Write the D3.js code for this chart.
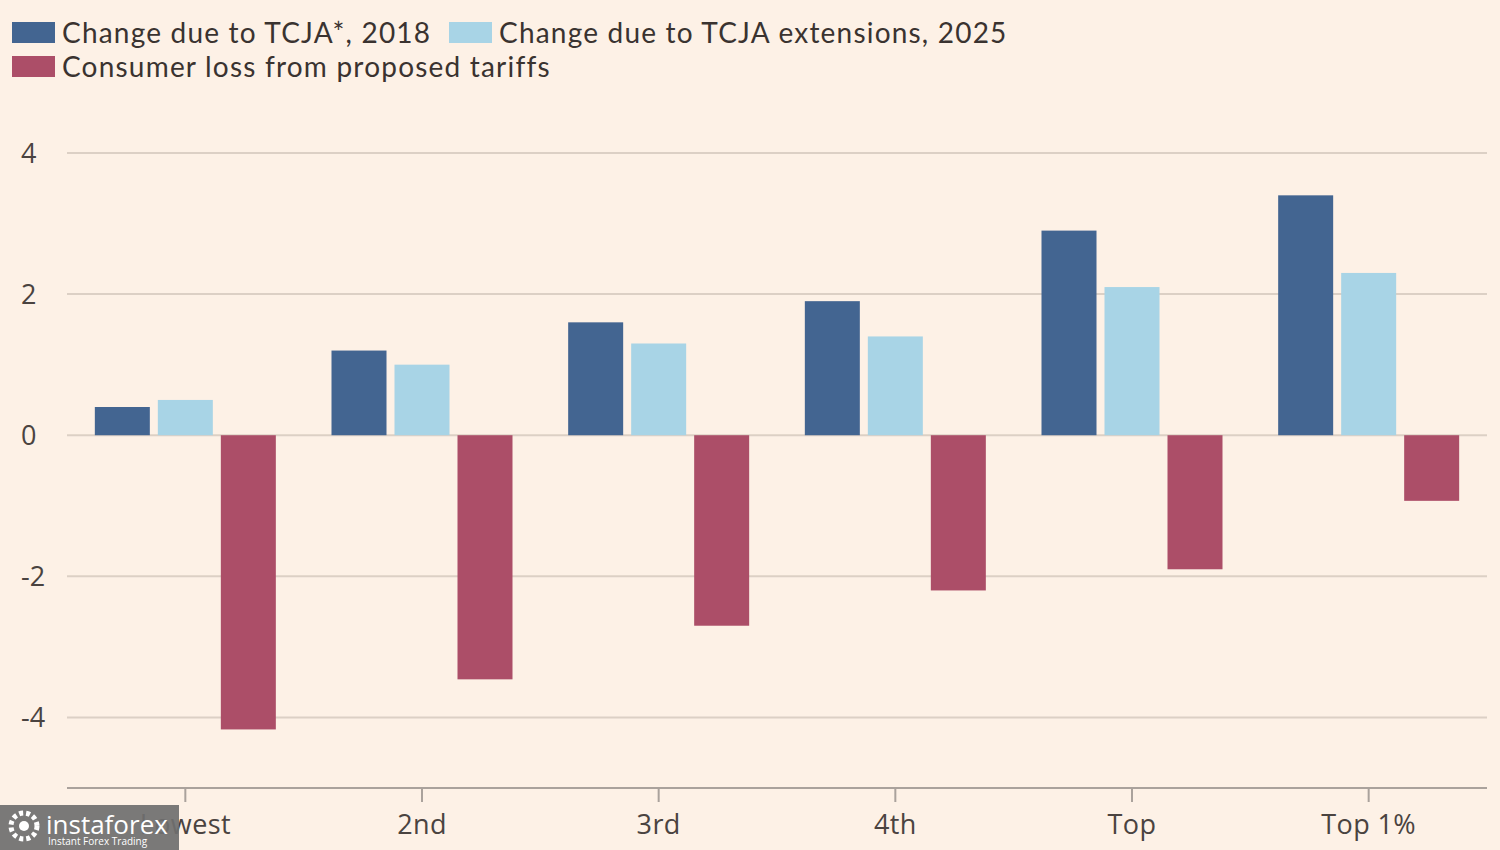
<!DOCTYPE html>
<html><head><meta charset="utf-8">
<script src="https://cdn.jsdelivr.net/npm/d3@7"></script>
<style>
html,body{margin:0;padding:0;background:#fdf1e6;}
svg{display:block;}
text{font-family:"Open Sans", Lato, sans-serif;}
</style></head>
<body>
<svg id="chart" width="1500" height="850"></svg>
<script>
const categories = ["Lowest", "2nd", "3rd", "4th", "Top", "Top 1%"];
const seriesNames = ["Change due to TCJA*, 2018", "Change due to TCJA extensions, 2025", "Consumer loss from proposed tariffs"];
const tcja2018 = [0.4, 1.2, 1.6, 1.9, 2.9, 3.4];
const tcja2025 = [0.5, 1.0, 1.3, 1.4, 2.1, 2.3];
const tariffs = [-4.17, -3.46, -2.7, -2.2, -1.9, -0.93];
const yTicks = [4, 2, 0, -2, -4];
const colors = ["#436591", "#a8d4e6", "#ac4e68"];

const svg = d3.select("#chart");
const left = 67, right = 1487;
const y = d3.scaleLinear().domain([-5, 4]).range([788, 153]);
const x = d3.scaleBand().domain(categories).range([left, right]).padding(0);
const sub = d3.scaleBand().domain([0,1,2]).range([-90.5, 90.5]).paddingInner(8/63).paddingOuter(0);

// grid
const g = svg.append("g");
g.selectAll("line.grid").data(yTicks).join("line")
  .attr("x1", left).attr("x2", right)
  .attr("y1", d => y(d)).attr("y2", d => y(d))
  .attr("stroke", "#dcd0c5").attr("stroke-width", 2);
g.selectAll("text.ytick").data(yTicks).join("text")
  .attr("x", 21).attr("y", d => y(d) + 10)
  .attr("font-size", 27).attr("fill", "#4a4340")
  .text(d => d);

// bars
const series = [tcja2018, tcja2025, tariffs];
series.forEach((vals, si) => {
  svg.append("g").selectAll("rect").data(vals).join("rect")
    .attr("x", (d, i) => x(categories[i]) + x.bandwidth()/2 + sub(si))
    .attr("width", sub.bandwidth())
    .attr("y", d => y(Math.max(0, d)))
    .attr("height", d => Math.abs(y(d) - y(0)))
    .attr("fill", colors[si]);
});

// x axis
const xa = svg.append("g");
xa.append("line").attr("x1", left).attr("x2", right).attr("y1", 788).attr("y2", 788)
  .attr("stroke", "#aaa29c").attr("stroke-width", 2);
xa.selectAll("line.tick").data(categories).join("line")
  .attr("x1", d => x(d) + x.bandwidth()/2).attr("x2", d => x(d) + x.bandwidth()/2)
  .attr("y1", 788).attr("y2", 802).attr("stroke", "#aaa29c").attr("stroke-width", 2);
xa.selectAll("text").data(categories).join("text")
  .attr("x", d => x(d) + x.bandwidth()/2).attr("y", 834)
  .attr("text-anchor", "middle").attr("font-size", 27).attr("letter-spacing", 0.4).attr("fill", "#4a4340")
  .text(d => d);

// legend
const legendPos = [[12, 22], [449, 22], [12, 56]];
const lg = svg.append("g");
seriesNames.forEach((n, i) => {
  const [lx, ly] = legendPos[i];
  lg.append("rect").attr("x", lx).attr("y", ly).attr("width", 43).attr("height", 21).attr("fill", colors[i]);
  lg.append("text").attr("x", lx + 50).attr("y", ly + 21)
    .style("font-family", "Lato, sans-serif")
    .attr("font-size", 28).attr("letter-spacing", 1.2).attr("fill", "#3a3330").text(n);
});

// watermark
const wm = svg.append("g");
wm.append("rect").attr("x", 0).attr("y", 805).attr("width", 179).attr("height", 45).attr("fill", "#6f6f6f").attr("opacity", 0.92);
wm.append("circle").attr("cx", 24).attr("cy", 826).attr("r", 13).attr("fill", "none").attr("stroke", "#fff").attr("stroke-width", 5).attr("stroke-dasharray", "4 3");
wm.append("circle").attr("cx", 24).attr("cy", 826).attr("r", 5).attr("fill", "#fff");
wm.append("text").attr("x", 46).attr("y", 834).attr("font-size", 26).attr("fill", "#fff").text("instaforex");
wm.append("text").attr("x", 48).attr("y", 845).attr("font-size", 10).attr("fill", "#fff").text("Instant Forex Trading");
</script>
</body></html>
